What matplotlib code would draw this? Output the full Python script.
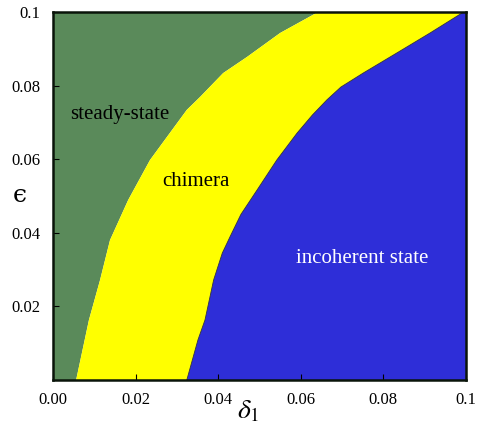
import numpy as np
import matplotlib
matplotlib.use('Agg')
import matplotlib.pyplot as plt

plt.rcParams['mathtext.fontset'] = 'stix'
serif = ['Liberation Serif', 'DejaVu Serif']

# green / yellow boundary (steady-state | chimera)
gy_x = [0.0056, 0.0087, 0.0114, 0.0138, 0.0182, 0.0235, 0.0324, 0.0356, 0.0412, 0.0470, 0.0550, 0.0642]
gy_y = [0.0, 0.0163, 0.0272, 0.0380, 0.0489, 0.0598, 0.0734, 0.0769, 0.0834, 0.0878, 0.0943, 0.1]

# yellow / blue boundary (chimera | incoherent)
yb_x = [0.0324, 0.0351, 0.0368, 0.0389, 0.0410, 0.0429, 0.0455, 0.0494, 0.0542, 0.0591, 0.0628,
        0.0663, 0.0697, 0.0751, 0.0833, 0.0913, 0.0990]
yb_y = [0.0, 0.0109, 0.0163, 0.0272, 0.0345, 0.0390, 0.0450, 0.0516, 0.0598, 0.0671, 0.0720,
        0.0761, 0.0796, 0.0834, 0.0889, 0.0943, 0.0997]

xticks = [0.0, 0.02, 0.04, 0.06, 0.08, 0.1]
xlabels = ['0.00', '0.02', '0.04', '0.06', '0.08', '0.1']
yticks = [0.02, 0.04, 0.06, 0.08, 0.1]
ylabels = ['0.02', '0.04', '0.06', '0.08', '0.1']

green = '#5a8a5a'
yellow = '#ffff00'
blue = '#2e2ed8'

fig = plt.figure(figsize=(4.81, 4.26), dpi=100)
ax = fig.add_axes([53 / 481, 46 / 426, 413 / 481, 368 / 426])

# regions
ax.fill([0.0] + gy_x + [0.0], [0.0] + gy_y + [0.1], color=green, lw=0)
ax.fill(gy_x + yb_x[::-1], gy_y + yb_y[::-1], color=yellow, lw=0)
ax.fill([gy_x[-1], 0.1, yb_x[-1]], [0.1, 0.1, yb_y[-1]], color=yellow, lw=0)
ax.fill(yb_x + [0.1, 0.1], yb_y + [0.1, 0.0], color=blue, lw=0)
ax.plot(yb_x, yb_y, color='#333333', lw=0.6)

ax.set_xlim(0, 0.1)
ax.set_ylim(0, 0.1)
ax.set_xticks(xticks)
ax.set_xticklabels(xlabels, family=serif, fontsize=12)
ax.set_yticks(yticks)
ax.set_yticklabels(ylabels, family=serif, fontsize=12)
ax.tick_params(direction='in', length=4, width=0.8, pad=9, top=False, right=False)
for s in ax.spines.values():
    s.set_linewidth(1.8)
    s.set_color('#0a140a')

ax.text(0.0162, 0.0722, 'steady-state', family=serif, fontsize=15, ha='center', va='center')
ax.text(0.0346, 0.0540, 'chimera', family=serif, fontsize=15, ha='center', va='center')
ax.text(0.0748, 0.0330, 'incoherent state', family=serif, fontsize=15, ha='center', va='center',
        color='white')

fig.text(20 / 481, 1 - 196 / 426, '\u03f5', family=['DejaVu Serif'], fontsize=18,
         ha='center', va='center')
fig.text(248 / 481, 1 - 410 / 426, r'$\delta_1$', fontsize=20, ha='center', va='center')

fig.savefig('out.png', dpi=100)
